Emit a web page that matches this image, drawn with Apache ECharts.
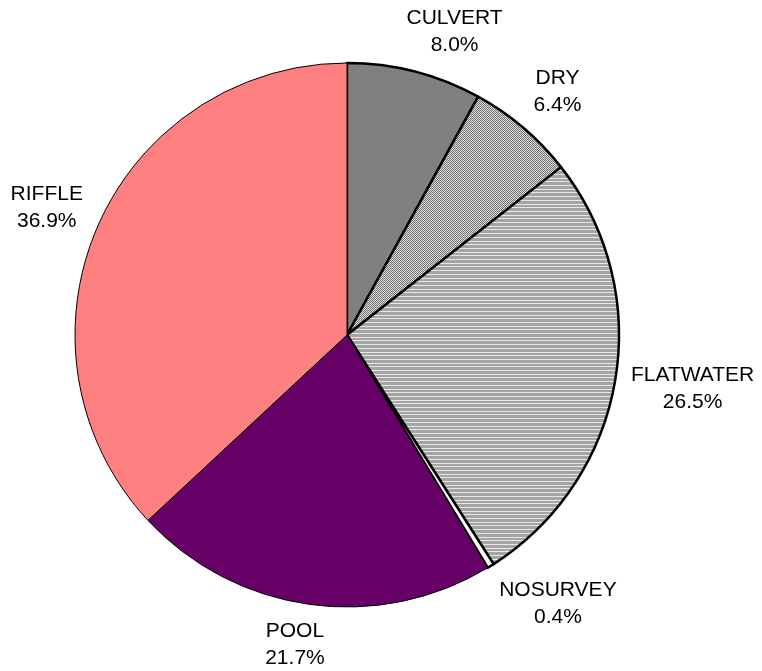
<!DOCTYPE html>
<html>
<head>
<meta charset="utf-8">
<script src="https://cdn.jsdelivr.net/npm/echarts@6/dist/echarts.min.js"></script>
<style>
  html, body { margin: 0; padding: 0; background: #fff; }
  #chart { width: 762px; height: 671px; }
</style>
</head>
<body>
<div id="chart"></div>
<script>
// 数据
var categories = ["CULVERT", "DRY", "FLATWATER", "NOSURVEY", "POOL", "RIFFLE"];
var shares = [8.0, 6.4, 26.5, 0.4, 21.7, 36.9];

// 填充图案
function makeChecker() {
  var c = document.createElement("canvas");
  c.width = 2; c.height = 2;
  var ctx = c.getContext("2d");
  ctx.fillStyle = "#e2e2e2"; ctx.fillRect(0, 0, 2, 2);
  ctx.fillStyle = "#6e6e6e"; ctx.fillRect(0, 0, 1, 1); ctx.fillRect(1, 1, 1, 1);
  return c;
}
function makeStripes() {
  var c = document.createElement("canvas");
  c.width = 4; c.height = 37;
  var ctx = c.getContext("2d");
  ctx.fillStyle = "#a4a4a4"; ctx.fillRect(0, 0, 4, 37);
  ctx.fillStyle = "#e8e8e8";
  for (var i = 0; i < 10; i++) ctx.fillRect(0, Math.round(i * 3.7), 4, 1);
  return c;
}

var fills = [
  "#808080",
  { image: makeChecker(), repeat: "repeat" },
  { image: makeStripes(), repeat: "repeat" },
  "#ffffff",
  "#660066",
  "#ff8080"
];
var borders = [2.5, 2.5, 2.5, 2.5, 1, 1];

var chart = echarts.init(document.getElementById("chart"));

function clamp(v) { return Math.max(-1, Math.min(1, v)); }

var option = {
  animation: false,
  series: [
    {
      type: "pie",
      center: [347, 335],
      radius: 272,
      startAngle: 90,
      clockwise: true,
      avoidLabelOverlap: false,
      data: categories.map(function (name, i) {
        return {
          name: name,
          value: shares[i],
          itemStyle: { color: fills[i], borderColor: "#000", borderWidth: borders[i] }
        };
      }),
      label: {
        show: true,
        position: "outside",
        fontFamily: "Liberation Sans, Arial, sans-serif",
        fontSize: 21,
        lineHeight: 27,
        color: "#000",
        formatter: function (p) { return p.name + "\n" + p.value.toFixed(1) + "%"; }
      },
      labelLine: { show: false },
      emphasis: { disabled: true },
      // 标签放在扇区中线外侧
      labelLayout: function (params) {
        var lay = chart.getModel().getSeriesByIndex(0).getData().getItemLayout(params.dataIndex);
        var mid = (lay.startAngle + lay.endAngle) / 2;
        var ux = Math.cos(mid), uy = Math.sin(mid);
        var w = params.labelRect.width;
        var gap = 16;
        return {
          x: lay.cx + ux * (lay.r + gap) + clamp(3 * ux) * w / 2,
          y: lay.cy + uy * (lay.r + gap) + clamp(1.3 * uy) * 24,
          align: "center",
          verticalAlign: "middle"
        };
      }
    }
  ]
};
chart.setOption(option);
</script>
</body>
</html>
